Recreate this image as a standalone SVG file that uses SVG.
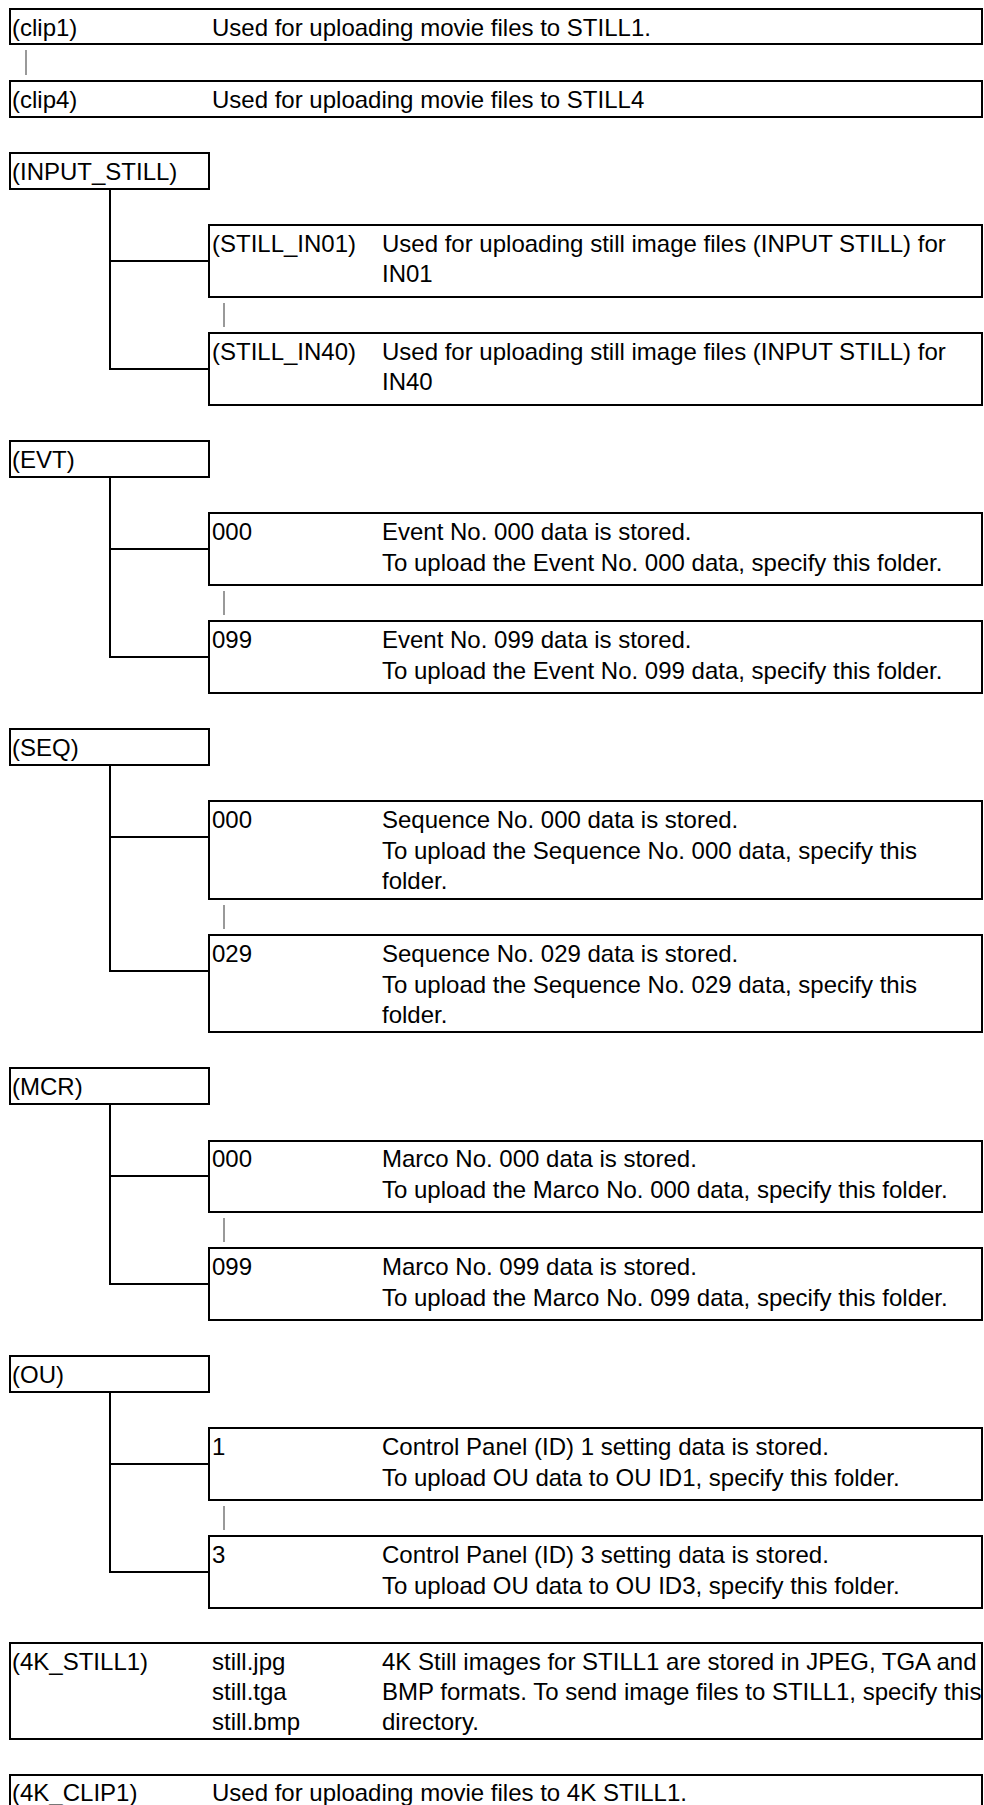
<svg xmlns="http://www.w3.org/2000/svg" width="984" height="1805" viewBox="0 0 984 1805">
  <style>
    .box { fill: #fff; stroke: #000; stroke-width: 2; }
    .t { font-family: "Liberation Sans", Arial, Helvetica, sans-serif; font-size: 24px; fill: #000; }
    .tree { fill: none; stroke: #000; stroke-width: 2; }
    .gap { stroke: #555; stroke-width: 1.2; }
  </style>

  <!-- folder tree branches and "omitted entries" marks -->
  <g id="connectors">
    <path class="tree" d="M110 189 V369 H209 M110 261 H209"/>
    <path class="tree" d="M110 477 V657 H209 M110 549 H209"/>
    <path class="tree" d="M110 765 V971 H209 M110 837 H209"/>
    <path class="tree" d="M110 1104 V1284 H209 M110 1176 H209"/>
    <path class="tree" d="M110 1392 V1572 H209 M110 1464 H209"/>
    <line class="gap" x1="26" y1="50" x2="26" y2="75"/>
    <line class="gap" x1="224" y1="303" x2="224" y2="327"/>
    <line class="gap" x1="224" y1="591" x2="224" y2="615"/>
    <line class="gap" x1="224" y1="905" x2="224" y2="929"/>
    <line class="gap" x1="224" y1="1218" x2="224" y2="1242"/>
    <line class="gap" x1="224" y1="1506" x2="224" y2="1530"/>
  </g>

  <!-- clip folders -->
  <g id="clip1">
    <rect class="box" x="10" y="9" width="972" height="35"/>
    <text class="t" x="12" y="36">(clip1)</text>
    <text class="t" x="212" y="36">Used for uploading movie files to STILL1.</text>
  </g>
  <g id="clip4">
    <rect class="box" x="10" y="81" width="972" height="36"/>
    <text class="t" x="12" y="108">(clip4)</text>
    <text class="t" x="212" y="108">Used for uploading movie files to STILL4</text>
  </g>

  <!-- INPUT_STILL -->
  <g id="input_still">
    <rect class="box" x="10" y="153" width="199" height="36"/>
    <text class="t" x="12" y="180">(INPUT_STILL)</text>
  </g>
  <g id="still_in01">
    <rect class="box" x="209" y="225" width="773" height="72"/>
    <text class="t" x="212" y="252">(STILL_IN01)</text>
    <text class="t" x="382" y="252">Used for uploading still image files (INPUT STILL) for</text>
    <text class="t" x="382" y="282">IN01</text>
  </g>
  <g id="still_in40">
    <rect class="box" x="209" y="333" width="773" height="72"/>
    <text class="t" x="212" y="360">(STILL_IN40)</text>
    <text class="t" x="382" y="360">Used for uploading still image files (INPUT STILL) for</text>
    <text class="t" x="382" y="390">IN40</text>
  </g>

  <!-- EVT -->
  <g id="evt">
    <rect class="box" x="10" y="441" width="199" height="36"/>
    <text class="t" x="12" y="468">(EVT)</text>
  </g>
  <g id="evt_000">
    <rect class="box" x="209" y="513" width="773" height="72"/>
    <text class="t" x="212" y="540">000</text>
    <text class="t" x="382" y="540">Event No. 000 data is stored.</text>
    <text class="t" x="382" y="571">To upload the Event No. 000 data, specify this folder.</text>
  </g>
  <g id="evt_099">
    <rect class="box" x="209" y="621" width="773" height="72"/>
    <text class="t" x="212" y="648">099</text>
    <text class="t" x="382" y="648">Event No. 099 data is stored.</text>
    <text class="t" x="382" y="679">To upload the Event No. 099 data, specify this folder.</text>
  </g>

  <!-- SEQ -->
  <g id="seq">
    <rect class="box" x="10" y="729" width="199" height="36"/>
    <text class="t" x="12" y="756">(SEQ)</text>
  </g>
  <g id="seq_000">
    <rect class="box" x="209" y="801" width="773" height="98"/>
    <text class="t" x="212" y="828">000</text>
    <text class="t" x="382" y="828">Sequence No. 000 data is stored.</text>
    <text class="t" x="382" y="859">To upload the Sequence No. 000 data, specify this</text>
    <text class="t" x="382" y="889">folder.</text>
  </g>
  <g id="seq_029">
    <rect class="box" x="209" y="935" width="773" height="97"/>
    <text class="t" x="212" y="962">029</text>
    <text class="t" x="382" y="962">Sequence No. 029 data is stored.</text>
    <text class="t" x="382" y="993">To upload the Sequence No. 029 data, specify this</text>
    <text class="t" x="382" y="1023">folder.</text>
  </g>

  <!-- MCR -->
  <g id="mcr">
    <rect class="box" x="10" y="1068" width="199" height="36"/>
    <text class="t" x="12" y="1095">(MCR)</text>
  </g>
  <g id="mcr_000">
    <rect class="box" x="209" y="1141" width="773" height="71"/>
    <text class="t" x="212" y="1167">000</text>
    <text class="t" x="382" y="1167">Marco No. 000 data is stored.</text>
    <text class="t" x="382" y="1198">To upload the Marco No. 000 data, specify this folder.</text>
  </g>
  <g id="mcr_099">
    <rect class="box" x="209" y="1248" width="773" height="72"/>
    <text class="t" x="212" y="1275">099</text>
    <text class="t" x="382" y="1275">Marco No. 099 data is stored.</text>
    <text class="t" x="382" y="1306">To upload the Marco No. 099 data, specify this folder.</text>
  </g>

  <!-- OU -->
  <g id="ou">
    <rect class="box" x="10" y="1356" width="199" height="36"/>
    <text class="t" x="12" y="1383">(OU)</text>
  </g>
  <g id="ou_1">
    <rect class="box" x="209" y="1428" width="773" height="72"/>
    <text class="t" x="212" y="1455">1</text>
    <text class="t" x="382" y="1455">Control Panel (ID) 1 setting data is stored.</text>
    <text class="t" x="382" y="1486">To upload OU data to OU ID1, specify this folder.</text>
  </g>
  <g id="ou_3">
    <rect class="box" x="209" y="1536" width="773" height="72"/>
    <text class="t" x="212" y="1563">3</text>
    <text class="t" x="382" y="1563">Control Panel (ID) 3 setting data is stored.</text>
    <text class="t" x="382" y="1594">To upload OU data to OU ID3, specify this folder.</text>
  </g>

  <!-- 4K folders -->
  <g id="k4_still1">
    <rect class="box" x="10" y="1643" width="972" height="96"/>
    <text class="t" x="12" y="1670">(4K_STILL1)</text>
    <text class="t" x="212" y="1670">still.jpg</text>
    <text class="t" x="212" y="1700">still.tga</text>
    <text class="t" x="212" y="1730">still.bmp</text>
    <text class="t" x="382" y="1670">4K Still images for STILL1 are stored in JPEG, TGA and</text>
    <text class="t" x="382" y="1700">BMP formats. To send image files to STILL1, specify this</text>
    <text class="t" x="382" y="1730">directory.</text>
  </g>
  <g id="k4_clip1">
    <rect class="box" x="10" y="1775" width="972" height="45"/>
    <text class="t" x="12" y="1801">(4K_CLIP1)</text>
    <text class="t" x="212" y="1801">Used for uploading movie files to 4K STILL1.</text>
  </g>
</svg>
